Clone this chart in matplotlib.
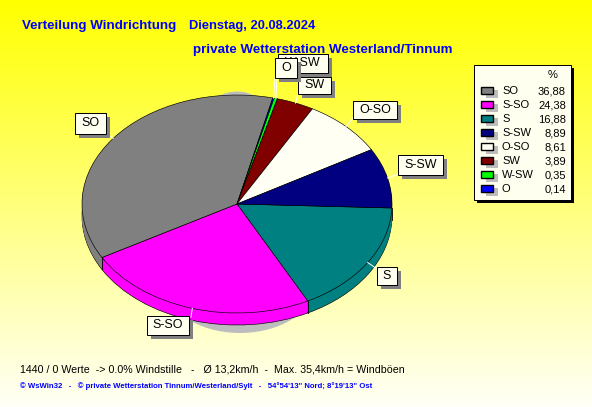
import numpy as np
import matplotlib
matplotlib.use('Agg')
import matplotlib.pyplot as plt
from matplotlib.patches import Rectangle, Ellipse

# chart order, clockwise from the right
directions = ['S', 'S-SO', 'SO', 'O', 'W-SW', 'SW', 'O-SO', 'S-SW']
percent = [16.88, 24.38, 36.88, 0.14, 0.35, 3.89, 8.61, 8.89]
colors = ['#008080', '#ff00ff', '#808080', '#0000ff', '#00ff00', '#800000', '#fffff4', '#000080']

legend_order = ['SO', 'S-SO', 'S', 'S-SW', 'O-SO', 'SW', 'W-SW', 'O']

title1 = 'Verteilung Windrichtung'
title_date = 'Dienstag, 20.08.2024'
title2 = 'private Wetterstation Westerland/Tinnum'
footer1 = '1440 / 0 Werte  -> 0.0% Windstille   -   \u00d8 13,2km/h  -  Max. 35,4km/h = Windb\u00f6en'
footer2 = '\u00a9 WsWin32   -   \u00a9 private Wetterstation Tinnum/Westerland/Sylt   -   54\u00b054\'13" Nord; 8\u00b019\'13" Ost'

W, H = 592, 407
cx, cy, rx, ry, depth = 237, 204, 155, 109, 12
start = 2.1  # degrees below the x axis
BLUE = '#0000ff'
IVORY = '#fffff0'
plt.rcParams['font.family'] = ['Liberation Sans', 'DejaVu Sans']

fig = plt.figure(figsize=(W / 100, H / 100), dpi=100)

# background: yellow fading to near white
bg = fig.add_axes([0, 0, 1, 1])
grad = np.linspace(0, 1, H)[:, None]
rgb = np.dstack([np.ones_like(grad), np.ones_like(grad), grad * 0.97])
bg.imshow(rgb, aspect='auto', extent=(0, W, H, 0), interpolation='bilinear')
bg.set_xlim(0, W)
bg.set_ylim(H, 0)
bg.axis('off')
bg.add_patch(Ellipse((240, 276), 160, 114, color='#bdbdbd', lw=0))
bg.add_patch(Ellipse((237, 111.5), 56, 40, color='#bdbdbd', lw=0))

# pie: the unit circle is stretched into the ellipse through the axes limits
pie_ax = fig.add_axes([0, 0, 1, 1])
pie_ax.patch.set_alpha(0)
for off in range(depth, -1, -1):
    edge = 'black' if off in (depth, 0) else 'none'
    pie_ax.pie(percent, colors=colors, startangle=-start, counterclock=False,
               center=(0, -off / ry), radius=1,
               wedgeprops=dict(edgecolor=edge, linewidth=0.45, antialiased=True))
pie_ax.set_aspect('auto')
pie_ax.set_xlim(-cx / rx, (W - cx) / rx)
pie_ax.set_ylim((cy - H) / ry, cy / ry)
pie_ax.axis('off')

# overlay in pixel coordinates
ax = fig.add_axes([0, 0, 1, 1])
ax.patch.set_alpha(0)
ax.set_xlim(0, W)
ax.set_ylim(H, 0)
ax.axis('off')

# vertical seams on the pie side
edges = np.cumsum(percent) / 100 * 2 * np.pi + np.radians(start)
for a in edges:
    if np.sin(a) > 0.01:
        x, y = cx + rx * np.cos(a), cy + ry * np.sin(a)
        ax.plot([x, x], [y, y + depth], color='black', lw=0.6)

# label boxes x0, y0, x1, y1, the leader goes to lx, ly
boxes = {
    'S': (377, 267, 397, 285, 377, 269),
    'S-SO': (147, 316, 189, 335, 191, 317),
    'SO': (75, 113, 106, 134, 107, 134),
    'W-SW': (278, 54, 328, 73, 277, 78),
    'O': (275, 58, 297, 78, 275, 78),
    'SW': (298, 77, 331, 94, 298, 94),
    'O-SO': (353, 101, 397, 119, 353, 118),
    'S-SW': (398, 155, 443, 175, 399, 174),
}
mids = (np.cumsum(percent) - np.array(percent) / 2) / 100 * 2 * np.pi + np.radians(start)
for name, a in zip(directions, mids):
    x0, y0, x1, y1, lx, ly = boxes[name]
    ax.plot([cx + rx * np.cos(a), lx], [cy + ry * np.sin(a), ly], color='white', lw=0.72, zorder=3)

z = 4
for name in ['W-SW', 'SW', 'S', 'S-SO', 'SO', 'O-SO', 'S-SW', 'O']:
    x0, y0, x1, y1, lx, ly = boxes[name]
    ax.add_patch(Rectangle((x0 + 4, y0 + 4), x1 - x0, y1 - y0, color='#808080', lw=0, zorder=z))
    ax.add_patch(Rectangle((x0, y0), x1 - x0, y1 - y0, fc=IVORY, ec='black', lw=0.72, zorder=z + 1))
    ax.text((x0 + x1) / 2, (y0 + y1) / 2, name, ha='center', va='center', fontsize=9, zorder=z + 2)
    z += 3

# legend table
ax.add_patch(Rectangle((477, 68), 97, 135, color='black', lw=0, zorder=40))
ax.add_patch(Rectangle((474, 65), 97, 135, fc=IVORY, ec='black', lw=0.72, zorder=41))
ax.text(553, 75, '%', ha='center', va='center', fontsize=8, zorder=42)
for i, name in enumerate(legend_order):
    y = 91 + i * 14
    k = directions.index(name)
    ax.add_patch(Rectangle((486, y - 1), 12, 8, color='#bdbdbd', lw=0, zorder=42))
    ax.add_patch(Rectangle((481, y - 4), 12, 7, fc=colors[k], ec='black', lw=1, zorder=43))
    ax.text(502, y, name, va='center', fontsize=8, zorder=42)
    ax.text(566, y, f'{percent[k]:.2f}'.replace('.', ','), ha='right', va='center', fontsize=8, zorder=42)

# titles and footer
ax.text(22, 26, title1, color=BLUE, fontweight='bold', fontsize=9.6, va='center', zorder=3)
ax.text(189, 26, title_date, color=BLUE, fontweight='bold', fontsize=9.3, va='center', zorder=3)
ax.text(193, 50, title2, color=BLUE, fontweight='bold', fontsize=9.65, va='center', zorder=3)
ax.text(20, 369, footer1, fontsize=7.65, va='center')
ax.text(20, 386, footer2, color=BLUE, fontweight='bold', fontsize=5.55, va='center')

fig.savefig('out.png', dpi=100)
